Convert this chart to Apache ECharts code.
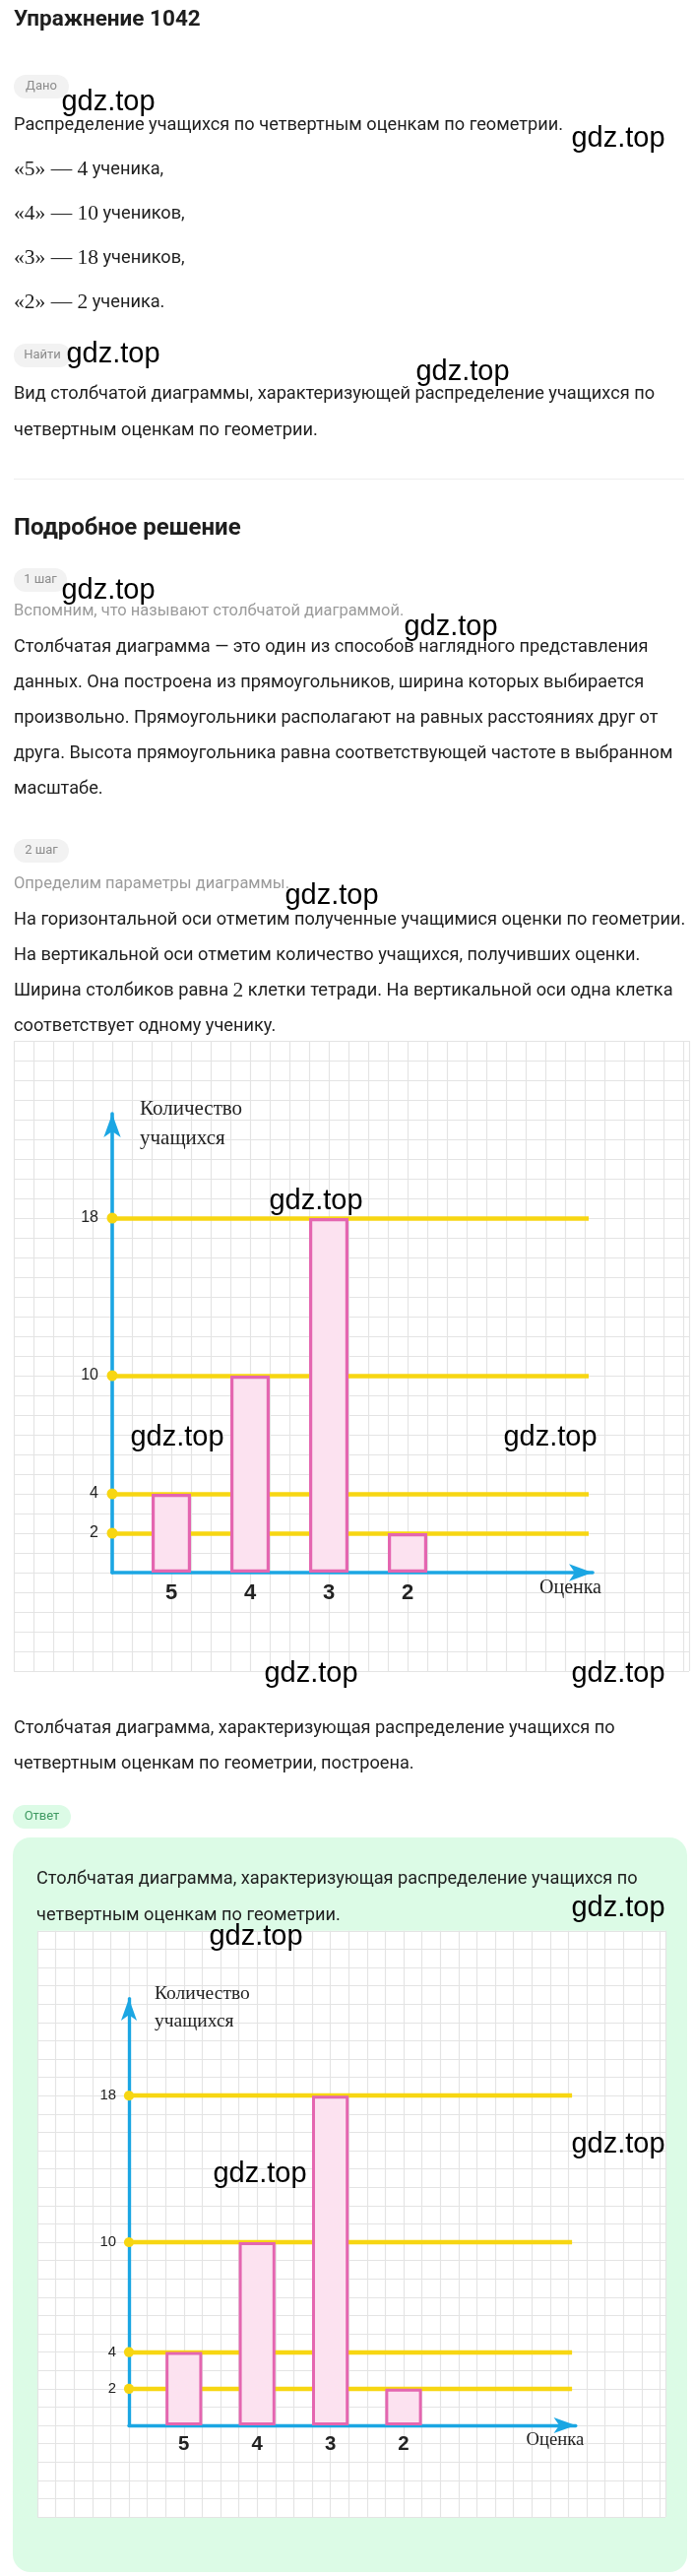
<!DOCTYPE html>
<html><head><meta charset="utf-8">
<script src="https://cdn.jsdelivr.net/npm/echarts@6/dist/echarts.min.js"></script>
<style>html,body{margin:0;padding:0;background:#fff}#c{width:705px;height:2616px}</style>
</head><body><div id="c"></div>
<script>
// ---- data ----
const grades = ['5', '4', '3', '2'];
const counts = [4, 10, 18, 2];
const yTickValues = [18, 10, 4, 2];
const axisNameY = 'Количество\nучащихся';
const axisNameX = 'Оценка';

// ---- style / layout ----
const BLUE = '#1BA6E3', YELLOW = '#F7D612', PINK = '#E466B0', PINK_FILL = '#FCE2F0';
const FONT = 'Roboto', SERIF = 'Liberation Serif', ARIAL = 'Liberation Sans';
const TXT = '#1e1e1e', GRAY = '#9b9b9b';
const BODY = 18.2;
const CHARTS = [
  { ox: 114, oy: 1597, cell: 20, s: 1 },
  { ox: 131, oy: 2463, cell: 18.6, s: 0.93 }
];
const X_END = 24.4, Y_END = 23.3, LINE_END = 24.2;

const grids = [], xAxes = [], yAxes = [], series = [];
const hidden = { axisLine: { show: false }, axisTick: { show: false }, axisLabel: { show: false } };
CHARTS.forEach(c => {
  const s = c.s, cell = c.cell;
  // paper (squared notebook)
  const gp = grids.length;
  grids.push({ left: c.ox - 5 * cell, top: c.oy - 27 * cell, width: 34.3 * cell, height: 32 * cell,
    show: true, backgroundColor: '#ffffff', borderWidth: 0 });
  const paperSplit = { show: true, lineStyle: { color: '#E4E4E4', width: 1.2 } };
  xAxes.push(Object.assign({ gridIndex: gp, type: 'value', min: -5, max: 29.3, interval: 1, splitLine: paperSplit }, hidden));
  yAxes.push(Object.assign({ gridIndex: gp, type: 'value', min: -5, max: 27, interval: 1, splitLine: paperSplit }, hidden));

  // axes with arrows
  const gb = grids.length;
  const top = c.oy - Y_END * cell;
  grids.push({ left: c.ox, top: top, width: X_END * cell, height: Y_END * cell });
  const axLine = { show: true, onZero: false, symbol: ['none', 'arrow'], symbolSize: [13 * s, 24 * s],
    lineStyle: { color: BLUE, width: 3.6 * s } };
  xAxes.push({ gridIndex: gb, type: 'value', min: 0, max: X_END, interval: 1,
    name: axisNameX, nameLocation: 'end', nameGap: 9 * s,
    nameTextStyle: { fontFamily: SERIF, fontSize: 20 * s, color: '#222', align: 'right', verticalAlign: 'top', padding: [6 * s, 0, 0, 0] },
    axisLine: axLine, axisTick: { show: false }, axisLabel: { show: false }, splitLine: { show: false } });
  yAxes.push({ gridIndex: gb, type: 'value', min: 0, max: Y_END, interval: 1,
    name: axisNameY, nameLocation: 'end', nameGap: 20 * s,
    nameTextStyle: { fontFamily: SERIF, fontSize: 21 * s, lineHeight: 30 * s, color: '#222', align: 'left', verticalAlign: 'top', padding: [0, 0, 0, 28 * s] },
    axisLine: axLine, axisTick: { show: false },
    axisLabel: { show: true, margin: 14 * s, fontFamily: ARIAL, fontSize: 16 * s, color: '#222',
      formatter: v => (yTickValues.indexOf(v) >= 0 ? String(v) : '') },
    splitLine: { show: false } });

  // bars on category axis
  const gc = grids.length;
  grids.push({ left: c.ox + cell, top: top, width: 16 * cell, height: Y_END * cell });
  xAxes.push({ gridIndex: gc, type: 'category', data: grades, axisLine: { show: false }, axisTick: { show: false },
    axisLabel: { margin: 10 * s, fontFamily: ARIAL, fontWeight: 'bold', fontSize: 22 * s, color: '#222' }, splitLine: { show: false } });
  yAxes.push({ gridIndex: gc, type: 'value', min: 0, max: Y_END, show: false });

  series.push({ type: 'line', xAxisIndex: gb, yAxisIndex: gb, data: [], z: 2, silent: true,
    markLine: { silent: true, symbol: ['none', 'none'], label: { show: false },
      lineStyle: { color: YELLOW, width: 4.6 * s, type: 'solid' },
      data: yTickValues.map(v => [{ coord: [0, v] }, { coord: [LINE_END, v] }]) } });
  series.push({ type: 'scatter', xAxisIndex: gb, yAxisIndex: gb, z: 4, silent: true,
    symbol: 'circle', symbolSize: 11 * s, itemStyle: { color: YELLOW, opacity: 1 },
    data: yTickValues.map(v => [0, v]) });
  series.push({ type: 'bar', xAxisIndex: gc, yAxisIndex: gc, z: 5, silent: true, barWidth: 2 * cell,
    itemStyle: { color: PINK_FILL, borderColor: PINK, borderWidth: 3.2 * s },
    data: counts });
});

// ---- page texts ----
function T(x, y, text, o) {
  return { type: 'text', x: x, y: y, z: 10, silent: true,
    style: Object.assign({ text: text, fill: TXT, fontSize: BODY, fontFamily: FONT, verticalAlign: 'middle', align: 'left' }, o || {}) };
}
function pill(x, y, w, label, bg, fg) {
  return [
    { type: 'rect', z: 9, silent: true, shape: { x: x, y: y - 12, width: w, height: 24, r: 12 }, style: { fill: bg } },
    T(x + w / 2, y, label, { fontSize: 13, fill: fg, align: 'center' })
  ];
}
const RICH = { m: { fontFamily: SERIF, fontSize: 21.5, fill: TXT }, t: { fontFamily: FONT, fontSize: BODY, fill: TXT } };
function M(x, y, math, rest) {
  return T(x, y, '{m|' + math + '}{t|' + rest + '}', { rich: RICH });
}
const L = 14;
const els = [];
els.push({ type: 'rect', z: -5, silent: true, shape: { x: 13, y: 1866, width: 685, height: 746, r: 18 }, style: { fill: '#DCFBE6' } });
els.push(T(L, 20, 'Упражнение 1042', { fontSize: 22.5, fontWeight: 'bold' }));
els.push(...pill(L, 88, 56, 'Дано', '#F2F2F2', '#8c8c8c'));
els.push(T(L, 127, 'Распределение учащихся по четвертным оценкам по геометрии.'));
els.push(M(L, 172, '«5» — 4', ' ученика,'));
els.push(M(L, 217, '«4» — 10', ' учеников,'));
els.push(M(L, 262, '«3» — 18', ' учеников,'));
els.push(M(L, 307, '«2» — 2', ' ученика.'));
els.push(...pill(L, 361, 58, 'Найти', '#F2F2F2', '#8c8c8c'));
els.push(T(L, 400, 'Вид столбчатой диаграммы, характеризующей распределение учащихся по'));
els.push(T(L, 437, 'четвертным оценкам по геометрии.'));
els.push({ type: 'rect', z: 9, silent: true, shape: { x: 14, y: 486, width: 681, height: 1 }, style: { fill: '#EDEDED' } });
els.push(T(L, 537, 'Подробное решение', { fontSize: 24, fontWeight: 'bold' }));
els.push(...pill(L, 589, 54, '1 шаг', '#F2F2F2', '#8c8c8c'));
els.push(T(L, 621, 'Вспомним, что называют столбчатой диаграммой.', { fill: GRAY, fontSize: 16.5 }));
els.push(T(L, 657, 'Столбчатая диаграмма — это один из способов наглядного представления'));
els.push(T(L, 693, 'данных. Она построена из прямоугольников, ширина которых выбирается'));
els.push(T(L, 729, 'произвольно. Прямоугольники располагают на равных расстояниях друг от'));
els.push(T(L, 765, 'друга. Высота прямоугольника равна соответствующей частоте в выбранном'));
els.push(T(L, 801, 'масштабе.'));
els.push(...pill(L, 864, 56, '2 шаг', '#F2F2F2', '#8c8c8c'));
els.push(T(L, 898, 'Определим параметры диаграммы.', { fill: GRAY, fontSize: 16.5 }));
els.push(T(L, 934, 'На горизонтальной оси отметим полученные учащимися оценки по геометрии.'));
els.push(T(L, 970, 'На вертикальной оси отметим количество учащихся, получивших оценки.'));
els.push(T(L, 1006, '{t|Ширина столбиков равна }{m|2}{t| клетки тетради. На вертикальной оси одна клетка}', { rich: RICH }));
els.push(T(L, 1042, 'соответствует одному ученику.'));
els.push(T(L, 1755, 'Столбчатая диаграмма, характеризующая распределение учащихся по'));
els.push(T(L, 1791, 'четвертным оценкам по геометрии, построена.'));
els.push(...pill(13, 1845, 59, 'Ответ', '#DCFBE6', '#3F9A62'));
els.push(T(37, 1908, 'Столбчатая диаграмма, характеризующая распределение учащихся по'));
els.push(T(37, 1945, 'четвертным оценкам по геометрии.'));

// watermarks
const WM = [[110, 104], [628, 141], [115, 360], [470, 378], [110, 600], [458, 637], [337, 910],
  [321, 1220], [180, 1460], [559, 1460], [316, 1700], [628, 1700], [628, 1938], [260, 1967], [628, 2178], [264, 2208]];
WM.forEach(p => els.push({ type: 'text', x: p[0], y: p[1], z: 100, silent: true,
  style: { text: 'gdz.top', fill: '#000', fontSize: 29, fontFamily: ARIAL, align: 'center', verticalAlign: 'middle' } }));

const chart = echarts.init(document.getElementById('c'), null, { renderer: 'canvas' });
chart.setOption({
  animation: false,
  backgroundColor: '#ffffff',
  grid: grids, xAxis: xAxes, yAxis: yAxes, series: series,
  graphic: { elements: els }
});
</script></body></html>
